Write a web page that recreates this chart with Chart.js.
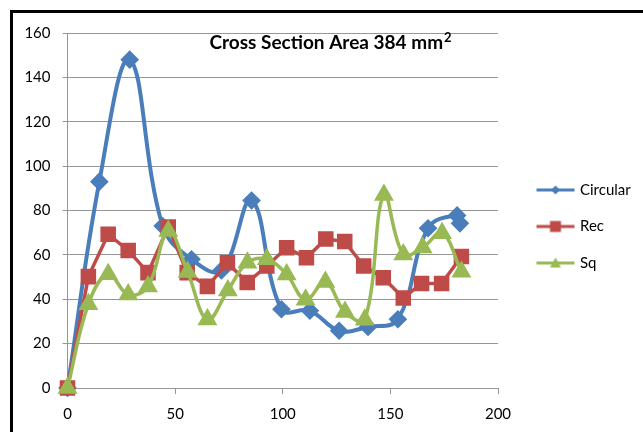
<!DOCTYPE html>
<html>
<head>
<meta charset="utf-8">
<script src="https://cdn.jsdelivr.net/npm/chart.js@4.4.1/dist/chart.umd.min.js"></script>
<style>
  html, body { margin: 0; padding: 0; background: #fff; overflow: hidden; }
  #wrap { position: relative; width: 643px; height: 432px; }
  #wrap canvas { position: absolute; left: 0; top: 0; }
  #frame { position: absolute; left: 10px; top: 10px; width: 700px; height: 500px;
           border: 3px solid #000; box-sizing: border-box; pointer-events: none; }
</style>
</head>
<body>
<div id="wrap">
  <canvas id="chart" width="643" height="432"></canvas>
  <div id="frame"></div>
</div>
<script>
// Series values: distance (x) and measured value (y)
const seriesNames = ['Circular', 'Rec', 'Sq'];
const circularX = [0, 14.8, 28.9, 44.2, 57.6, 71.5, 85.5, 99.4, 112.6, 126.2, 139.6, 153.5, 167.5, 181, 182.3];
const circularY = [0, 93, 148, 73, 58, 53, 84.5, 35.5, 34.8, 25.8, 27.5, 31, 72, 77.8, 74.2];
const recX = [0, 9.7, 18.9, 28.2, 37.4, 46.8, 55.6, 65, 74.3, 83.5, 92.6, 101.8, 111, 120, 128.8, 137.6, 146.7, 156, 164.5, 173.8, 183];
const recY = [0, 50.2, 69.3, 62, 52, 72.6, 52, 45.8, 56.4, 47.5, 55, 63.2, 58.7, 67.2, 66, 55, 49.7, 40.6, 47.1, 47.1, 59.3];
const sqX = [0, 9.7, 18.9, 28.2, 37.4, 46.8, 55.8, 65, 74.5, 83.6, 92.6, 101.8, 110.6, 119.8, 128.9, 138.1, 147, 156, 165, 174, 183];
const sqY = [0, 37.8, 51.3, 42.1, 45.8, 70.8, 52.3, 30.9, 44, 56.5, 58, 51.2, 39.8, 47.8, 34.3, 30.8, 87, 60.2, 63.3, 69.8, 52.4];
const xTicks = [0, 50, 100, 150, 200];
const yTicks = [0, 20, 40, 60, 80, 100, 120, 140, 160];
const titleMain = 'Cross Section Area 384 mm';
const titleSup = '2';

const FONT = 'Lato, "Open Sans", sans-serif';
const BLUE = '#4A7EBB', RED = '#BE4B48', GREEN = '#98B954';
const GRID = '#969696';

const toPoints = (xs, ys) => xs.map((x, i) => ({ x: x, y: ys[i] }));

// Legend key: a short line with the series marker in the middle
function legendKey(color, shape) {
  const c = document.createElement('canvas');
  c.width = 40; c.height = 16;
  const g = c.getContext('2d');
  g.strokeStyle = color; g.fillStyle = color; g.lineWidth = 3;
  g.beginPath(); g.moveTo(1, 8); g.lineTo(39, 8); g.stroke();
  g.beginPath();
  if (shape === 'diamond') {
    g.moveTo(20, 3.5); g.lineTo(24.5, 8); g.lineTo(20, 12.5); g.lineTo(15.5, 8);
  } else if (shape === 'square') {
    g.rect(14.5, 2.5, 11, 11);
  } else {
    g.moveTo(20, 2.5); g.lineTo(25.5, 12.5); g.lineTo(14.5, 12.5);
  }
  g.closePath(); g.fill();
  return c;
}
const keys = [legendKey(BLUE, 'diamond'), legendKey(RED, 'square'), legendKey(GREEN, 'triangle')];

// Fixed legend column on the right, title drawn inside the plot area
const layoutPlugin = {
  id: 'layoutTweaks',
  beforeLayout(chart) {
    const lg = chart.legend;
    if (lg && !lg._fixedWidth) {
      const fit = lg.fit.bind(lg);
      lg.fit = function () { fit(); this.width = 145; };
      lg._fixedWidth = true;
    }
  },
  afterLayout(chart) {
    const lg = chart.legend;
    if (!lg) return;
    const dx = 19, dy = -6;
    lg.left += dx; lg.right += dx;
    lg.top += dy; lg.bottom += dy;
  },
  afterDraw(chart) {
    const ctx = chart.ctx, a = chart.chartArea;
    ctx.save();
    ctx.fillStyle = '#000';
    ctx.textBaseline = 'middle';
    ctx.font = 'bold 19px ' + FONT;
    const wMain = ctx.measureText(titleMain).width;
    ctx.font = 'bold 13px ' + FONT;
    const wSup = ctx.measureText(titleSup).width;
    const cx = a.left + 263, cy = a.top + 10;
    const x0 = cx - (wMain + wSup + 1) / 2;
    ctx.textAlign = 'left';
    ctx.font = 'bold 19px ' + FONT;
    ctx.fillText(titleMain, x0, cy);
    ctx.font = 'bold 13px ' + FONT;
    ctx.fillText(titleSup, x0 + wMain + 1, cy - 5);
    ctx.restore();
  }
};

new Chart(document.getElementById('chart'), {
  type: 'line',
  data: {
    datasets: [
      { label: seriesNames[0], data: toPoints(circularX, circularY), borderColor: BLUE, backgroundColor: BLUE,
        borderWidth: 4, tension: 0.4, pointStyle: 'rectRot', pointRadius: 6.5, order: 2, clip: false },
      { label: seriesNames[1], data: toPoints(recX, recY), borderColor: RED, backgroundColor: RED,
        borderWidth: 3.5, tension: 0, pointStyle: 'rect', pointRadius: 8.5, order: 1, clip: false },
      { label: seriesNames[2], data: toPoints(sqX, sqY), borderColor: GREEN, backgroundColor: GREEN,
        borderWidth: 3.5, tension: 0.4, pointStyle: 'triangle', pointRadius: 8, order: 0, clip: false }
    ]
  },
  options: {
    responsive: false,
    animation: false,
    devicePixelRatio: 1,
    layout: { padding: { top: 33, left: 0, right: 0, bottom: 0 } },
    elements: { point: { borderWidth: 0, hoverRadius: 7 }, line: { capBezierPoints: true } },
    plugins: {
      title: { display: false },
      tooltip: { enabled: false },
      legend: {
        position: 'right',
        align: 'center',
        labels: {
          usePointStyle: true,
          pointStyleWidth: 34,
          padding: 21.5,
          color: '#000',
          font: { family: FONT, size: 15 },
          generateLabels(chart) {
            return chart.data.datasets.map((ds, i) => ({
              text: ds.label, pointStyle: keys[i], fillStyle: ds.borderColor,
              strokeStyle: ds.borderColor, lineWidth: 0, hidden: false, datasetIndex: i
            }));
          }
        }
      }
    },
    scales: {
      x: {
        type: 'linear', min: 0, max: 200,
        afterBuildTicks(scale) { scale.ticks = xTicks.map(v => ({ value: v })); },
        afterFit(scale) { scale.height = 44; },
        grid: { drawOnChartArea: false, drawTicks: true, tickLength: 6, color: GRID },
        border: { display: true, color: GRID, width: 1 },
        ticks: { color: '#000', font: { family: FONT, size: 15 }, padding: 11, maxRotation: 0 }
      },
      y: {
        type: 'linear', min: 0, max: 160,
        afterBuildTicks(scale) { scale.ticks = yTicks.map(v => ({ value: v })); },
        afterFit(scale) { scale.width = 67.5; },
        grid: { drawOnChartArea: true, drawTicks: true, tickLength: 5, color: GRID },
        border: { display: true, color: GRID, width: 1 },
        ticks: { color: '#000', font: { family: FONT, size: 15 }, padding: 12 }
      }
    }
  },
  plugins: [layoutPlugin]
});
</script>
</body>
</html>
